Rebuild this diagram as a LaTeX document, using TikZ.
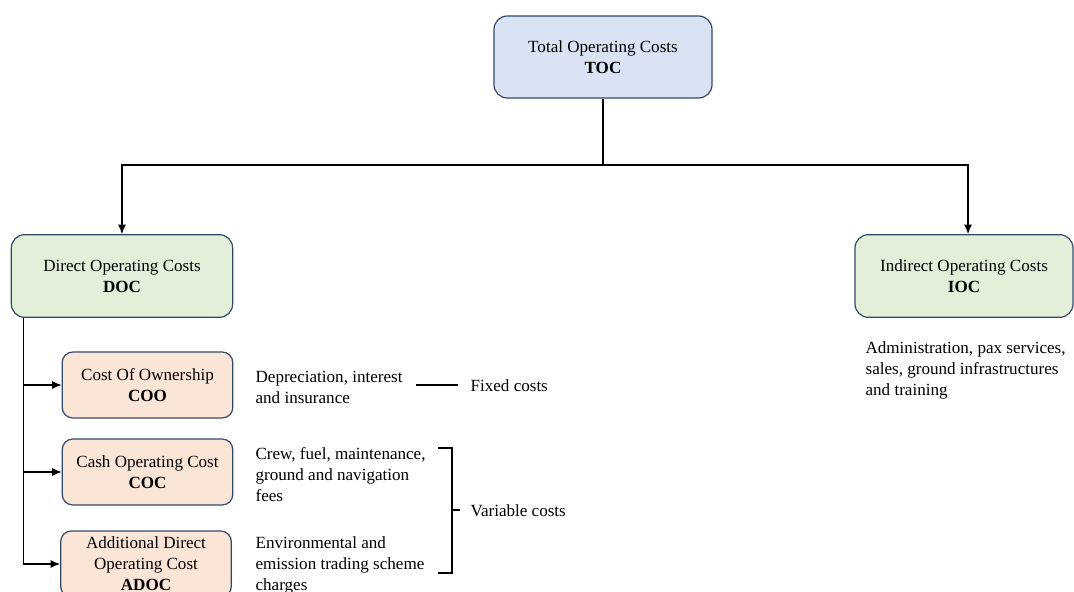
\documentclass[tikz,border=0pt]{standalone}
\usepackage{fontspec}
\setmainfont{Liberation Serif}
\usetikzlibrary{arrows.meta,positioning,calc}

\definecolor{edgeblue}{HTML}{34496A}
\definecolor{tocblue}{HTML}{DAE3F3}
\definecolor{docgreen}{HTML}{E2F0D9}
\definecolor{subpeach}{HTML}{FBE5D6}

\begin{document}
\begin{tikzpicture}[
      x=0.75pt, y=-0.75pt,
      >={Latex[length=7pt,width=6pt]},
      line width=0.9pt,
      font=\fontsize{12.8}{15.75}\selectfont,
      box/.style    ={rectangle, rounded corners=10pt, draw=edgeblue,
                      align=center, inner sep=0pt},
      topbox/.style ={box, fill=tocblue, minimum width=163.5pt,
                      minimum height=61.5pt},
      mainbox/.style={box, fill=docgreen, minimum width=166pt,
                      minimum height=62pt},
      subbox/.style ={box, fill=subpeach, minimum width=128pt,
                      minimum height=49.5pt, rounded corners=8pt},
      note/.style   ={align=left, inner sep=0pt, anchor=west}
    ]

    \useasboundingbox (0,0) rectangle (1074,592);

    \node[topbox] (toc) at (603,57) {Total Operating Costs\\ \textbf{TOC}};
    \node[mainbox] (doc) at (122,276) {Direct Operating Costs\\ \textbf{DOC}};
    \node[mainbox, minimum width=163.5pt] (ioc) at (964,276)
          {Indirect Operating Costs\\ \textbf{IOC}};

    \node[subbox] (coo) at (147.5,385) {Cost Of Ownership\\ \textbf{COO}};
    \node[subbox] (coc) at (147.5,472) {Cash Operating Cost\\ \textbf{COC}};
    \node[subbox] (adoc) at (146,564)
          {Additional Direct\\ Operating Cost\\ \textbf{ADOC}};

    \node[note] (iocinfo) at (865,370)
          {Administration, pax services,\\ sales, ground infrastructures\\ and training};
    \node[note] (cooinfo) at (255,387) {Depreciation, interest\\ and insurance};
    \node[note] (cocinfo) at (255,475)
          {Crew, fuel, maintenance,\\ ground and navigation\\ fees};
    \node[note] (adocinfo) at (255,565)
          {Environmental and\\ emission trading scheme\\ charges};

    \node[note] (fixed) at (470,386) {Fixed costs};
    \node[note] (variable) at (470,511) {Variable costs};

    % top split
    \coordinate (split) at (603,165);
    \draw (toc.south) -- (split);
    \draw[->] (split) -| (doc.north);
    \draw[->] (split) -| ([xshift=3pt]ioc.north);

    % spine under DOC
    \coordinate (spine) at ($(doc.south west)+(13,0)$);
    \draw[->] (spine) |- (coo.west);
    \draw[->] (spine) |- (coc.west);
    \draw[->] (spine) |- (adoc.west);

    % cost kinds
    \coordinate (fixstart) at (416,385);
    \draw (fixstart) -- ([xshift=-9pt,yshift=0.75pt]fixed.west);
    \draw (438,448) -- (452,448) -- (452,573) -- (438,573);
    \draw (452,510) -- ([xshift=-7.5pt,yshift=0.75pt]variable.west);
\end{tikzpicture}
\end{document}
